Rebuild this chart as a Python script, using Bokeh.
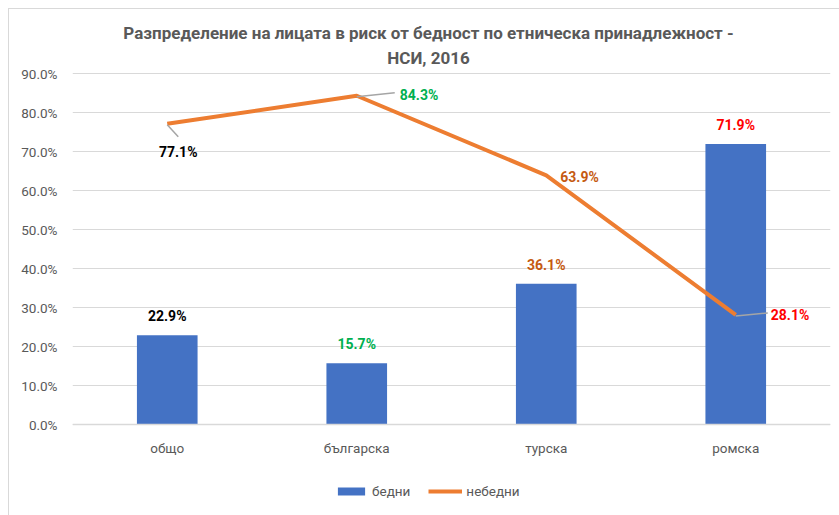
from bokeh.plotting import figure
from bokeh.models import (ColumnDataSource, FactorRange, Range1d, NumeralTickFormatter,
                          Label, LabelSet, Legend, LegendItem)
from bokeh.core.properties import value
from bokeh.embed import file_html
from bokeh.resources import INLINE

categories = ["общо", "българска", "турска", "ромска"]
poor = [0.229, 0.157, 0.361, 0.719]
non_poor = [0.771, 0.843, 0.639, 0.281]
poor_labels = ["22.9%", "15.7%", "36.1%", "71.9%"]
non_poor_labels = ["77.1%", "84.3%", "63.9%", "28.1%"]
label_colors = ["#000000", "#00B050", "#C55A11", "#FF0000"]
title_lines = ["Разпределение на лицата в риск от бедност по етническа принадлежност -", "НСИ, 2016"]
series_names = ["бедни", "небедни"]
y_ticks = [i / 10 for i in range(10)]

FONT = "Roboto"
GREY = "#595959"
BLUE = "#4472C4"
ORANGE = "#ED7D31"

# layout in page pixels
OX, OY = 8, 8                 # figure origin on the page
BORDER = 1
W, H = 831, 507
FL, FR = 72, 830              # frame left / right (page px)
Y0_PX, YTOP_PX = 425, 74      # page y of 0% and of 90%
SHIFT_Y = 2
YMAX_TICK = 0.9
px_y = (Y0_PX - YTOP_PX) / YMAX_TICK
px_x = (FR - FL) / len(categories)
y_start = -(OY + H - Y0_PX + SHIFT_Y) / px_y
y_end = (Y0_PX - SHIFT_Y - OY) / px_y

p = figure(x_range=FactorRange(*categories, range_padding=0), y_range=Range1d(y_start, y_end),
           width=W, height=H, output_backend="svg", toolbar_location=None,
           x_axis_location=None,
           min_border_left=FL - OX - BORDER, min_border_right=OX + W - FR + BORDER,
           min_border_top=0, min_border_bottom=0)
p.styles = {"margin-left": f"{OX}px", "margin-top": f"{OY}px",
            "border-left": "1px solid #D9D9D9", "border-top": "1px solid #D9D9D9"}
p.outline_line_color = None
p.background_fill_color = "white"
p.border_fill_color = "white"

src = ColumnDataSource(dict(cat=categories, poor=poor, non_poor=non_poor,
                            plab=poor_labels, col=label_colors, zero=[0] * len(categories)))

bars = p.vbar(x="cat", top="poor", width=0.32, source=src, fill_color=BLUE, line_color=None)
line = p.line(x="cat", y="non_poor", source=src, line_color=ORANGE, line_width=4, line_join="round")

# grid and y axis
p.xgrid.grid_line_color = None
p.ygrid.grid_line_color = "#D9D9D9"
p.ygrid.grid_line_width = 1
p.yaxis.ticker = y_ticks
p.yaxis.formatter = NumeralTickFormatter(format="0.0%")
p.yaxis.axis_line_color = None
p.yaxis.major_tick_line_color = None
p.yaxis.minor_tick_line_color = None
p.yaxis.major_tick_out = 0
p.yaxis.major_label_standoff = 15
p.yaxis.major_label_text_font = FONT
p.yaxis.major_label_text_font_size = "13.5px"
p.yaxis.major_label_text_color = GREY

# category axis line and labels
p.segment(x0=[0], y0=[0], x1=[len(categories)], y1=[0], line_color="#D9D9D9", line_width=1.5)
cat_lbls = LabelSet(x="cat", y="zero", text="cat", source=src, text_color=GREY,
                    text_font=value(FONT), text_font_size="13.5px",
                    text_align="center", text_baseline="middle", y_offset=-23)
p.add_layout(cat_lbls)

# bar labels
bar_lbls = LabelSet(x="cat", y="poor", text="plab", source=src, text_color="col",
                    text_font=value(FONT), text_font_size="14px", text_font_style="bold",
                    text_align="center", text_baseline="bottom", y_offset=11)
p.add_layout(bar_lbls)

# line labels with leader lines (offsets in px)
lab_off = [(11, -28, "center"), (43, 1, "left"), (14, -2, "left"), (35, 0, "left")]
leaders = [(0, -1, 11, -13), (0, -1, 38, 3), None, (0, -1, 32, 2)]
for i in range(len(categories)):
    xc = i + 0.5
    dx, dy, al = lab_off[i]
    p.add_layout(Label(x=xc, y=non_poor[i], text=non_poor_labels[i], x_offset=dx, y_offset=dy,
                       text_align=al, text_baseline="middle", text_font=FONT,
                       text_font_size="14px", text_font_style="bold", text_color=label_colors[i]))
    if leaders[i] is not None:
        x0, y0, x1, y1 = leaders[i]
        p.segment(x0=[xc + x0 / px_x], y0=[non_poor[i] + y0 / px_y],
                  x1=[xc + x1 / px_x], y1=[non_poor[i] + y1 / px_y],
                  line_color="#A5A5A5", line_width=1.5)

# title (centred over the whole chart)
title_x = (428 - FL) / px_x
for t, ypx in zip(title_lines, [33, 58]):
    p.add_layout(Label(x=title_x, y=(Y0_PX - ypx) / px_y, text=t, text_align="center",
                       text_baseline="middle", text_font=FONT, text_font_size="17px",
                       text_font_style="bold", text_color=GREY))

# legend (inside the extended frame, below the categories)
legend = Legend(items=[LegendItem(label=series_names[0], renderers=[bars]),
                       LegendItem(label=series_names[1], renderers=[line])],
                orientation="horizontal", location=(262, 17),
                glyph_width=34, glyph_height=10, label_standoff=4, spacing=18,
                label_text_font=FONT, label_text_font_size="13.5px", label_text_color=GREY,
                border_line_color=None, background_fill_alpha=0, padding=4, margin=0)
p.add_layout(legend, "center")

open("out.html", "w").write(file_html(p, INLINE))
